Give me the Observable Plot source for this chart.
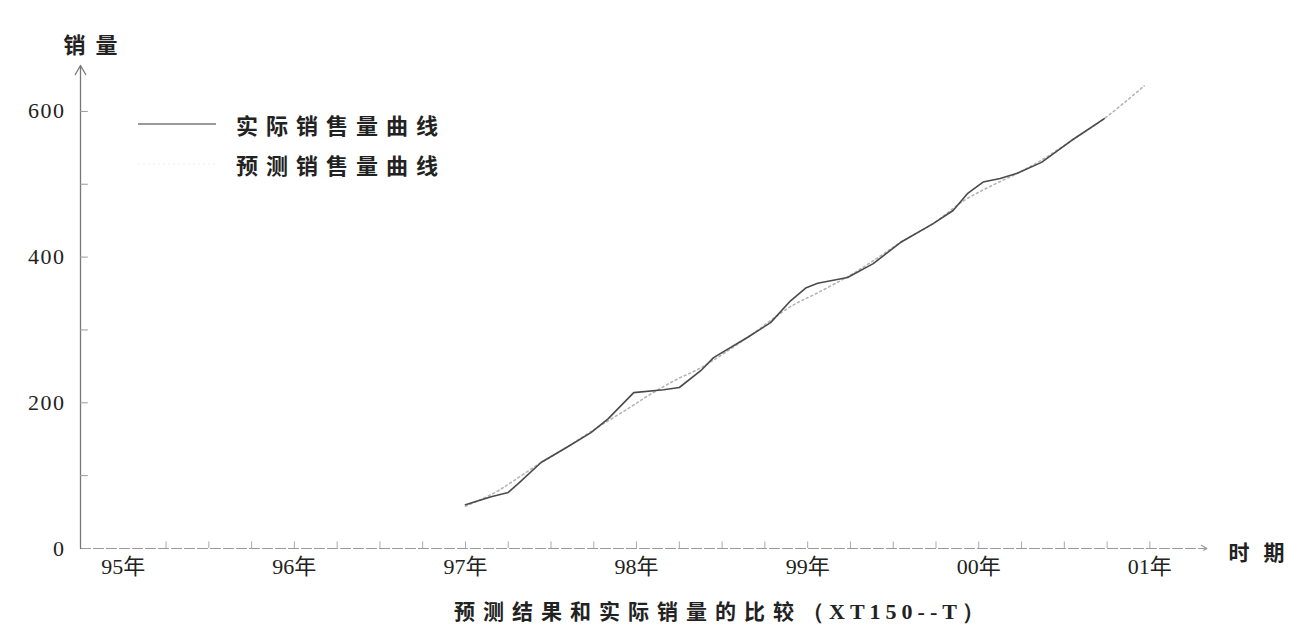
<!DOCTYPE html>
<html>
<head>
<meta charset="utf-8">
<script src="https://cdn.jsdelivr.net/npm/d3@7"></script>
<script src="https://cdn.jsdelivr.net/npm/@observablehq/plot@0.6"></script>
<style>
  html, body { margin: 0; padding: 0; background: #fff; }
  #wrap { position: relative; width: 1310px; height: 638px; }
  #legend { position: absolute; left: 138px; top: 104px; font-family: "Noto Sans CJK SC", sans-serif; font-weight: 700; font-size: 22px; letter-spacing: 8px; color: #222; }
  #legend .row { height: 40px; line-height: 40px; display: flex; align-items: center; }
  #legend svg { margin-right: 20px; }
  #caption { position: absolute; left: 0; top: 590px; width: 1310px; height: 40px; line-height: 40px; padding-left: 454px; box-sizing: border-box; font-family: "Noto Sans CJK SC", sans-serif; font-weight: 700; font-size: 21px; letter-spacing: 8px; color: #222; }
  #caption .latin { letter-spacing: 5px; font-family: "Liberation Serif", serif; font-size: 22px; }
</style>
</head>
<body>
<div id="wrap">
  <div id="chart"></div>
  <div id="legend"></div>
  <div id="caption"></div>
</div>
<script>
// ---- data (months counted from Jan 1995 = 0) ----
const yearTicks = [0, 12, 24, 36, 48, 60, 72];
const yearLabels = ["95年", "96年", "97年", "98年", "99年", "00年", "01年"];
const yTicks = [0, 200, 400, 600];
const yMinorTicks = [100, 200, 300, 400, 500, 600];
const xMinorTicks = [3, 6, 9, 12, 15, 18, 21, 24, 27, 30, 33, 36, 39, 42, 45, 48, 51, 54, 57, 60, 63, 66, 69, 72];

const actualMonth = [24.0, 25.8, 27.0, 27.7, 29.3, 31.2, 32.8, 34.0, 35.8, 37.9, 39.0, 40.5, 41.4, 43.8, 45.4, 46.8, 47.9, 48.7, 50.8, 52.6, 54.5, 56.8, 58.2, 59.2, 60.3, 61.5, 62.7, 64.4, 66.5, 68.8];
const actualSales = [60, 71, 77, 89, 118, 140, 159, 178, 214, 218, 221, 244, 262, 290, 310, 340, 358, 364, 372, 391, 420, 446, 464, 487, 503, 508, 515, 530, 560, 590];

const forecastMonth = [24.0, 26.0, 27.3, 29.3, 31.2, 33.0, 35.4, 37.0, 38.8, 40.5, 43.8, 46.8, 48.6, 50.8, 52.6, 54.5, 56.8, 59.0, 60.7, 62.7, 64.4, 66.5, 68.8, 71.6];
const forecastSales = [58, 76, 92, 118, 140, 163, 192, 212, 232, 248, 290, 332, 350, 373, 395, 420, 446, 478, 496, 515, 533, 560, 590, 635];

const seriesNames = ["实际销售量曲线", "预测销售量曲线"];
const yAxisTitle = "销量";
const xAxisTitle = "时期";
const captionMain = "预测结果和实际销量的比较";
const captionCode = "（XT150--T）";

// ---- build tables ----
const actual = actualMonth.map((m, i) => ({m, v: actualSales[i]}));
const forecast = forecastMonth.map((m, i) => ({m, v: forecastSales[i]}));
const xDomain = [-3, 75.2];
const yDomain = [0, 663];

const numFont = "'Liberation Serif', 'Noto Sans CJK SC', serif";
const cjkFont = "'Noto Sans CJK SC', sans-serif";

const chart = Plot.plot({
  width: 1310,
  height: 590,
  marginLeft: 80,
  marginRight: 115,
  marginTop: 65,
  marginBottom: 42,
  x: {domain: xDomain, label: null},
  y: {domain: yDomain, label: null},
  style: {background: "#fff", color: "#222"},
  marks: [
    Plot.arrow([0], {x1: xDomain[0], x2: xDomain[1] + 0.8, y1: 0, y2: 0, stroke: "#999", strokeWidth: 1.2, strokeDasharray: "10,3", headLength: 8, bend: 0}),
    Plot.arrow([0], {x1: xDomain[0], x2: xDomain[0], y1: 0, y2: yDomain[1], stroke: "#777", strokeWidth: 1.3, headLength: 12, bend: 0}),
    Plot.ruleX(xMinorTicks, {x: d => d, y1: 0, y2: 9, stroke: "#aaa", strokeWidth: 1}),
    Plot.ruleY(yMinorTicks, {y: d => d, x1: xDomain[0], x2: xDomain[0] + 0.55, stroke: "#999", strokeWidth: 1}),
    Plot.axisY(yTicks, {label: null, tickSize: 0, tickPadding: 15, fontSize: 22, fontFamily: numFont, fill: "#222"}),
    Plot.axisX(yearTicks, {label: null, tickSize: 0, tickPadding: 10, fontSize: 22, fontFamily: numFont, fill: "#222",
      tickFormat: d => yearLabels[yearTicks.indexOf(d)]}),
    Plot.text([yAxisTitle], {frameAnchor: "top-left", textAnchor: "start", lineAnchor: "middle", dx: -17, dy: -20,
      fontSize: 22, fontWeight: 700, fontFamily: cjkFont, fill: "#222"}),
    Plot.text([xAxisTitle], {frameAnchor: "bottom-right", textAnchor: "start", lineAnchor: "middle", dx: 33, dy: 5,
      fontSize: 21, fontWeight: 700, fontFamily: cjkFont, fill: "#222"}),
    Plot.line(forecast, {x: "m", y: "v", stroke: "#b5b5b5", strokeWidth: 1.6, strokeDasharray: "2,3", curve: "catmull-rom"}),
    Plot.line(actual, {x: "m", y: "v", stroke: "#4a4a4a", strokeWidth: 1.6, curve: "linear"})
  ]
});
document.getElementById("chart").appendChild(chart);

// letter spacing for the axis titles and tick labels
d3.select(chart).selectAll("text").each(function() {
  const t = this.textContent;
  if (t === yAxisTitle) this.setAttribute("letter-spacing", "10");
  else if (t === xAxisTitle) this.setAttribute("letter-spacing", "14");
  else if (yTicks.map(String).includes(t)) this.setAttribute("letter-spacing", "1.5");
});

const legend = document.getElementById("legend");
legend.innerHTML =
  `<div class="row"><svg width="78" height="6"><line x1="0" y1="3" x2="78" y2="3" stroke="#777" stroke-width="1.4"/></svg><span>${seriesNames[0]}</span></div>` +
  `<div class="row"><svg width="78" height="6"><line x1="0" y1="3" x2="78" y2="3" stroke="#eee" stroke-width="1.2" stroke-dasharray="2,3"/></svg><span>${seriesNames[1]}</span></div>`;

document.getElementById("caption").innerHTML = `${captionMain}<span class="latin">${captionCode}</span>`;
</script>
</body>
</html>
